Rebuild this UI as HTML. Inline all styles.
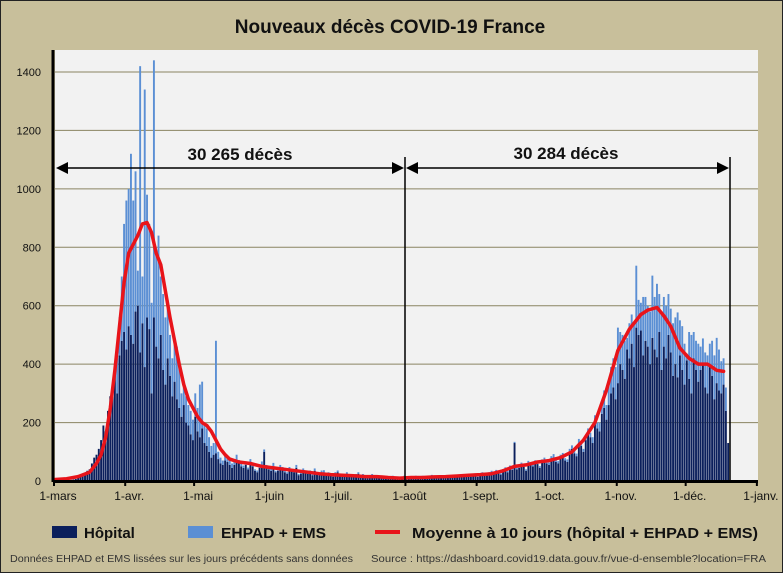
<!DOCTYPE html>
<html><head><meta charset="utf-8"><style>
html,body{margin:0;padding:0;background:#c8bf9b;}
svg{display:block;font-family:"Liberation Sans",sans-serif;}
</style></head><body>
<svg id="chart" width="783" height="573" viewBox="0 0 783 573" xmlns="http://www.w3.org/2000/svg">
<rect x="0.5" y="0.5" width="782" height="572" fill="#c8bf9b" stroke="#222" stroke-width="1"/>
<text x="390" y="33" text-anchor="middle" font-size="19" font-weight="bold" fill="#111">Nouveaux décès COVID-19 France</text>
<rect x="55" y="50" width="703" height="431" fill="#f2f2f2"/>
<g id="grid"></g>
<g id="bars"></g>
<g id="line"></g>
<g id="axes"></g>
<g>
  <line x1="405" y1="157" x2="405" y2="481" stroke="#000" stroke-width="1.5"/>
  <line x1="730" y1="157" x2="730" y2="481" stroke="#000" stroke-width="1.5"/>
  <line x1="62" y1="168" x2="398" y2="168" stroke="#000" stroke-width="1.5"/>
  <polygon points="56,168 68,162 68,174" fill="#000"/>
  <polygon points="404,168 392,162 392,174" fill="#000"/>
  <line x1="412" y1="168" x2="723" y2="168" stroke="#000" stroke-width="1.5"/>
  <polygon points="406,168 418,162 418,174" fill="#000"/>
  <polygon points="729,168 717,162 717,174" fill="#000"/>
  <text x="240" y="160" text-anchor="middle" font-size="17" font-weight="bold" fill="#111">30 265 décès</text>
  <text x="566" y="159" text-anchor="middle" font-size="17" font-weight="bold" fill="#111">30 284 décès</text>
</g>
<g>
  <rect x="52" y="526" width="25" height="12" fill="#0b1f5c"/>
  <text x="84" y="538" font-size="15" font-weight="bold" fill="#111">Hôpital</text>
  <rect x="188" y="526" width="25" height="12" fill="#5b8fd4"/>
  <text x="221" y="538" font-size="15" font-weight="bold" fill="#111" textLength="105" lengthAdjust="spacingAndGlyphs">EHPAD + EMS</text>
  <line x1="375" y1="532" x2="400" y2="532" stroke="#e8141a" stroke-width="4"/>
  <text x="412" y="538" font-size="15" font-weight="bold" fill="#111" textLength="346" lengthAdjust="spacingAndGlyphs">Moyenne à 10 jours (hôpital + EHPAD + EMS)</text>
</g>
<text x="10" y="562" font-size="10" fill="#333" textLength="343" lengthAdjust="spacingAndGlyphs">Données EHPAD et EMS lissées sur les jours précédents sans données</text>
<text x="371" y="562" font-size="10" fill="#333" textLength="395" lengthAdjust="spacingAndGlyphs">Source : https://dashboard.covid19.data.gouv.fr/vue-d-ensemble?location=FRA</text>
</svg>
<script>
const hopital = [
0,0,1,1,2,2,3,4,5,7,
11,14,18,19,35,40,60,80,90,110,
140,190,170,240,290,330,370,300,430,480,
510,450,530,500,470,580,600,440,540,390,
560,520,300,560,460,420,500,380,330,420,
360,290,340,280,250,220,260,200,190,160,
140,220,170,150,180,130,120,100,80,90,
95,75,60,55,70,65,55,45,55,70,
60,50,45,55,40,65,50,35,30,45,
55,100,45,40,35,50,30,35,45,40,
30,25,40,35,30,45,20,25,35,30,
25,30,20,35,25,20,30,25,20,25,
20,15,25,30,20,15,20,25,15,20,
15,20,25,15,20,15,10,15,20,12,
15,10,12,15,10,8,12,15,10,8,
10,12,15,5,8,12,10,15,12,10,
15,10,12,14,18,12,10,15,12,14,
15,12,14,16,18,12,15,14,16,18,
20,15,18,22,14,20,25,18,22,25,
30,25,32,28,22,35,40,30,45,38,
130,40,45,55,48,35,60,55,50,62,
58,45,65,70,60,55,75,80,65,60,
85,90,70,65,100,110,95,85,130,120,
100,140,160,150,130,200,180,170,230,250,
210,260,300,320,280,335,400,380,350,450,
420,470,390,525,500,515,430,480,460,400,
490,450,424,510,380,460,420,500,440,360,
400,355,430,380,330,413,350,300,420,380,
340,380,400,320,300,390,360,280,335,310,
300,330,240,130];
const ehpad = [
0,0,0,0,0,0,0,0,0,0,
0,0,0,0,0,0,0,0,0,0,
0,0,0,0,0,0,10,120,130,220,
370,510,470,620,490,480,120,980,160,950,
420,360,310,880,320,420,200,260,230,200,
140,130,140,180,140,80,70,90,70,80,
70,80,80,180,160,70,60,50,40,40,
385,25,20,15,20,15,15,15,15,20,
12,10,8,12,6,10,8,5,6,10,
12,8,10,6,8,12,5,6,10,8,
6,5,8,6,5,10,4,5,8,6,
5,6,4,8,5,4,6,12,4,5,
4,3,5,6,4,3,4,5,3,4,
3,4,5,3,4,3,2,3,4,2,
3,2,2,3,2,1,2,3,2,1,
2,2,3,1,1,2,2,3,2,2,
3,2,2,3,3,2,2,3,2,3,
3,2,3,3,4,2,3,3,3,4,
4,3,4,4,3,4,5,4,4,5,
5,4,6,5,4,6,7,5,8,6,
4,6,7,8,7,5,9,8,7,9,
8,6,9,10,8,8,10,12,9,8,
5,6,8,9,10,12,10,9,14,12,
10,15,20,15,20,25,20,30,40,60,
50,80,90,100,110,190,110,120,130,40,
120,100,150,212,120,95,200,150,140,180,
213,180,251,130,200,170,180,140,150,180,
160,222,120,150,140,23,160,200,90,100,
130,80,88,120,130,80,120,150,155,140,
110,90,80,0];
const avgDays = [0,5,10,15,18,20,22,24,26,28,30,32,34,36,38,40,42,44,46,48,50,52,54,56,58,60,62,64,66,68,70,72,74,76,78,80,85,90,95,100,105,110,115,120,125,130,135,140,145,150,155,160,165,170,175,180,185,190,195,200,205,210,215,220,225,230,235,240,245,250,255,258,262,265,268,272,276,280,284,288,291];
const avgValues = [5,8,15,30,60,90,150,250,380,530,680,780,810,840,880,885,850,780,740,650,560,480,400,330,280,250,220,200,190,170,140,110,90,75,70,65,60,50,45,40,35,30,25,22,20,18,15,15,12,10,12,12,14,15,17,20,22,25,35,50,55,65,70,80,100,140,200,310,447,520,570,585,594,565,530,455,420,400,400,379,375];
const yTicks = [0,200,400,600,800,1000,1200,1400];
const monthLabels = ["1-mars","1-avr.","1-mai","1-juin","1-juil.","1-août","1-sept.","1-oct.","1-nov.","1-déc.","1-janv."];
const monthDays = [0,31,61,92,122,153,184,214,245,275,306];

const NS="http://www.w3.org/2000/svg";
const X0=54, PX=2.297, Y0=481, PY=409/1400;
const xs=d=>X0+d*PX;
const ys=v=>Y0-v*PY;
function mk(tag,attrs,parent){const e=document.createElementNS(NS,tag);for(const k in attrs)e.setAttribute(k,attrs[k]);parent.appendChild(e);return e;}
const grid=document.getElementById('grid'),bars=document.getElementById('bars'),line=document.getElementById('line'),axes=document.getElementById('axes');
yTicks.forEach(t=>{
  if(t>0){const g=mk('line',{x1:55,x2:758,y1:ys(t),y2:ys(t),stroke:'#8a8462','stroke-width':1},grid);
  
  }
  const lb=mk('text',{x:41,y:ys(t)+4,'text-anchor':'end','font-size':11,fill:'#111'},axes);
  lb.textContent=t;
  
  
});
hopital.forEach((h,d)=>{
  const e=ehpad[d]||0;
  const b1=mk('rect',{x:xs(d)+0.2,y:ys(h),width:1.9,height:h*PY,fill:'#0b1f5c'},bars);
  
  
  if(e>0){const b2=mk('rect',{x:xs(d)+0.2,y:ys(h+e),width:1.9,height:e*PY,fill:'#5b8fd4'},bars);
  
  }
});
let dstr='';
avgDays.forEach((d,i)=>{dstr+=(i?'L':'M')+xs(d+0.5).toFixed(1)+','+ys(avgValues[i]).toFixed(1);});
const p=mk('path',{d:dstr,fill:'none',stroke:'#e8141a','stroke-width':3.5,'stroke-linejoin':'round','stroke-linecap':'round'},line);


const ax=mk('line',{x1:53,x2:53,y1:50,y2:482},axes);ax.setAttribute('stroke','#000');ax.setAttribute('stroke-width','3');


const bx=mk('line',{x1:53,x2:758,y1:481.5,y2:481.5,stroke:'#000','stroke-width':3},axes);


monthDays.forEach((d,i)=>{
  const tk=mk('line',{x1:xs(d),x2:xs(d),y1:481,y2:486,stroke:'#000','stroke-width':2},axes);
  
  
  const lb=mk('text',{x:xs(d)+4,y:500,'text-anchor':'middle','font-size':12,fill:'#111'},axes);
  lb.textContent=monthLabels[i];
  
  
});
</script>
</body></html>
